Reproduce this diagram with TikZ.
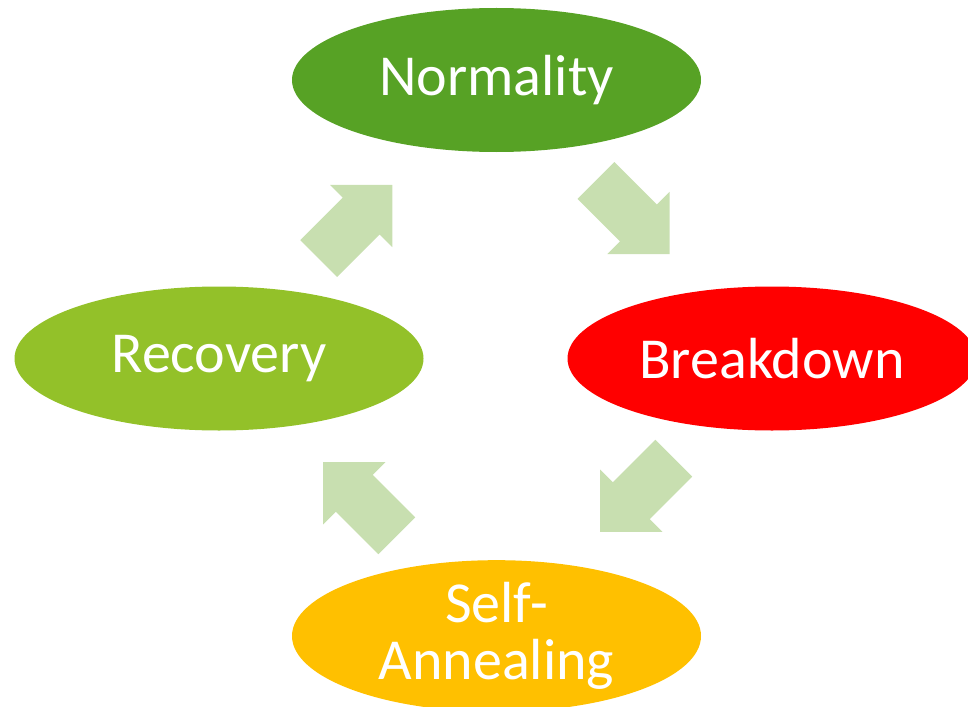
\documentclass[tikz,border=0pt]{standalone}
\usepackage{fontspec}
\setmainfont{Carlito}
\usetikzlibrary{shapes.geometric}
\definecolor{normgreen}{RGB}{87,162,37}
\definecolor{recgreen}{RGB}{147,193,41}
\definecolor{breakred}{RGB}{255,0,0}
\definecolor{annealgold}{RGB}{255,192,0}
\definecolor{arrowgreen}{RGB}{200,223,176}
\tikzset{
  stage/.style={ellipse, inner sep=0pt, minimum width=409pt, minimum height=144pt,
    text=white, align=center, font=\fontsize{58}{57}\selectfont},
  blockarrow/.pic={
    \fill[arrowgreen] (-52,-26) -- (8,-26) -- (8,-44) -- (52,0) -- (8,44) -- (8,26) -- (-52,26) -- cycle;
  }
}
\begin{document}
\begin{tikzpicture}[x=1pt,y=-1pt]
\useasboundingbox (0,0) rectangle (968,706);
\node[stage, fill=normgreen] (norm) at (496.5,80) {Normality};
\node[stage, fill=breakred] (break) at (772,358.5) {Breakdown};
\node[stage, fill=recgreen] (rec) at (219,358.5) {Recovery};
\node[stage, fill=annealgold] (anneal) at (496.5,636) {Self-\\Annealing};
\coordinate (a1) at (355.5,221.75);
\coordinate (a2) at (632.75,217.25);
\coordinate (a3) at (637,495);
\coordinate (a4) at (360,499);
\pic[rotate=45] at (a1) {blockarrow};
\pic[rotate=-45] at (a2) {blockarrow};
\pic[rotate=-135] at (a3) {blockarrow};
\pic[rotate=135] at (a4) {blockarrow};
\end{tikzpicture}
\end{document}
